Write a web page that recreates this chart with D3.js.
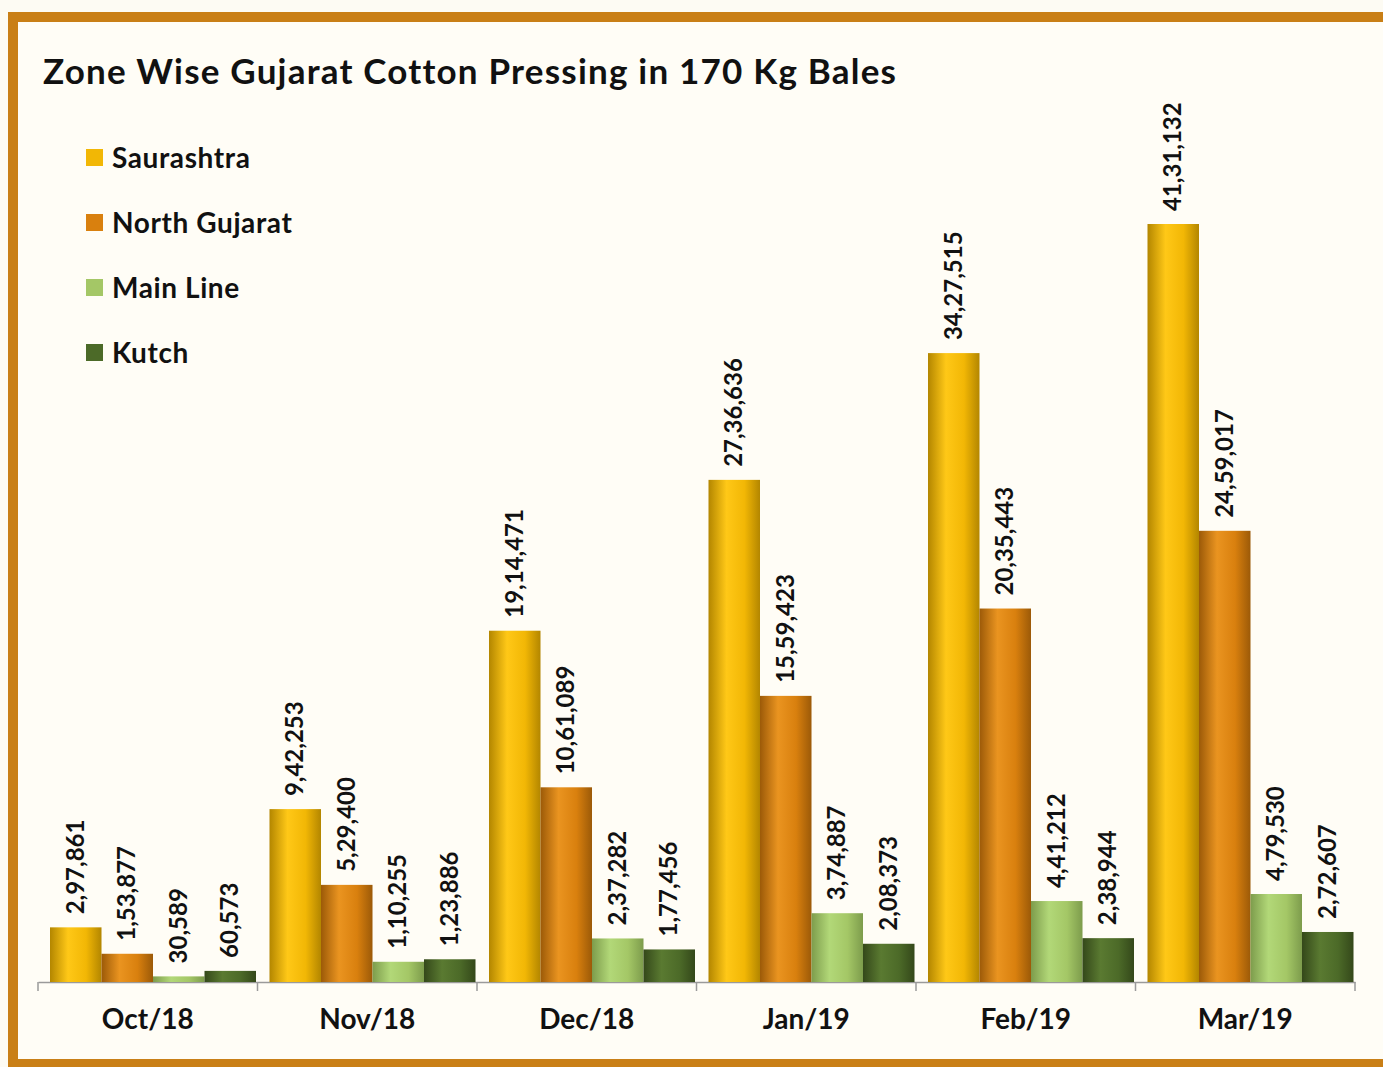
<!DOCTYPE html>
<html>
<head>
<meta charset="utf-8">
<script src="https://cdnjs.cloudflare.com/ajax/libs/d3/7.8.5/d3.min.js"></script>
<style>
  body { margin: 0; background: #fffdf6; }
  svg { display: block; font-family: Lato, "Open Sans", sans-serif; }
</style>
</head>
<body>
<div id="chart"></div>
<script>
const months = ["Oct/18", "Nov/18", "Dec/18", "Jan/19", "Feb/19", "Mar/19"];
const zones = ["Saurashtra", "North Gujarat", "Main Line", "Kutch"];
const saurashtra = [297861, 942253, 1914471, 2736636, 3427515, 4131132];
const northGujarat = [153877, 529400, 1061089, 1559423, 2035443, 2459017];
const mainLine = [30589, 110255, 237282, 374887, 441212, 479530];
const kutch = [60573, 123886, 177456, 208373, 238944, 272607];
const labels = [
  ["2,97,861", "9,42,253", "19,14,471", "27,36,636", "34,27,515", "41,31,132"],
  ["1,53,877", "5,29,400", "10,61,089", "15,59,423", "20,35,443", "24,59,017"],
  ["30,589", "1,10,255", "2,37,282", "3,74,887", "4,41,212", "4,79,530"],
  ["60,573", "1,23,886", "1,77,456", "2,08,373", "2,38,944", "2,72,607"]
];
const series = [saurashtra, northGujarat, mainLine, kutch];
// light centre / dark edge for the cylinder look
const colours = [
  { mid: "#ffc817", edge: "#b38600", base: "#f2b705" },
  { mid: "#ea9420", edge: "#9c5a08", base: "#d9800e" },
  { mid: "#b2d878", edge: "#7d9c4c", base: "#a4c766" },
  { mid: "#5a7a31", edge: "#34481a", base: "#4c6a28" }
];

const W = 1383, H = 1067;
const svg = d3.select("#chart").append("svg").attr("width", W).attr("height", H);

// frame
svg.append("rect").attr("x", 0).attr("y", 0).attr("width", W).attr("height", H).attr("fill", "#fdfbf3");
svg.append("rect").attr("x", 13).attr("y", 17).attr("width", W + 20).attr("height", H - 20)
  .attr("fill", "#fffdf6").attr("stroke", "#c97f16").attr("stroke-width", 10);

const defs = svg.append("defs");
colours.forEach((c, i) => {
  const g = defs.append("linearGradient").attr("id", "grad" + i).attr("x1", 0).attr("x2", 1).attr("y1", 0).attr("y2", 0);
  g.append("stop").attr("offset", "0%").attr("stop-color", c.edge);
  g.append("stop").attr("offset", "35%").attr("stop-color", c.mid);
  g.append("stop").attr("offset", "70%").attr("stop-color", c.base);
  g.append("stop").attr("offset", "100%").attr("stop-color", c.edge);
});

svg.append("text").attr("x", 43).attr("y", 84)
  .attr("font-size", 35).attr("font-weight", "bold").attr("fill", "#111")
  .attr("letter-spacing", 1.2)
  .text("Zone Wise Gujarat Cotton Pressing in 170 Kg Bales");

const baseY = 982;
const x0 = d3.scaleBand().domain(months).range([38, 1355]);
const y = d3.scaleLinear().domain([0, 4131132]).range([baseY, 224]);
const barW = 51.5;

// axis
const axis = svg.append("g").attr("transform", `translate(0,${baseY})`)
  .call(d3.axisBottom(x0).tickSize(0).tickPadding(27));
axis.select(".domain").attr("stroke", "#9a9a9a").attr("stroke-width", 1.5);
axis.selectAll(".tick text").attr("font-size", 28).attr("font-weight", "bold")
  .attr("fill", "#111").attr("font-family", "Lato, sans-serif");
svg.append("g").selectAll("line").data(d3.range(months.length + 1)).join("line")
  .attr("x1", i => 38 + i * x0.bandwidth()).attr("x2", i => 38 + i * x0.bandwidth())
  .attr("y1", baseY).attr("y2", baseY + 9).attr("stroke", "#9a9a9a").attr("stroke-width", 1.5);

// bars
series.forEach((vals, s) => {
  const g = svg.append("g");
  g.selectAll("rect").data(vals).join("rect")
    .attr("x", (d, i) => x0(months[i]) + 12 + s * barW)
    .attr("y", d => y(d))
    .attr("width", barW)
    .attr("height", d => baseY - y(d))
    .attr("fill", `url(#grad${s})`);
  g.selectAll("text").data(vals).join("text")
    .attr("transform", (d, i) => `translate(${x0(months[i]) + 12 + s * barW + barW / 2 + 8},${y(d) - 13}) rotate(-90)`)
    .attr("font-size", 24).attr("font-weight", "bold").attr("fill", "#111")
    .text((d, i) => labels[s][i]);
});

// legend
const leg = svg.append("g");
zones.forEach((z, i) => {
  const ly = 158 + i * 65;
  leg.append("rect").attr("x", 86).attr("y", ly - 9).attr("width", 17).attr("height", 17)
    .attr("fill", colours[i].base);
  leg.append("text").attr("x", 112).attr("y", ly + 10)
    .attr("font-size", 28).attr("font-weight", "bold").attr("fill", "#111")
    .attr("letter-spacing", 0.6).text(z);
});
</script>
</body>
</html>
